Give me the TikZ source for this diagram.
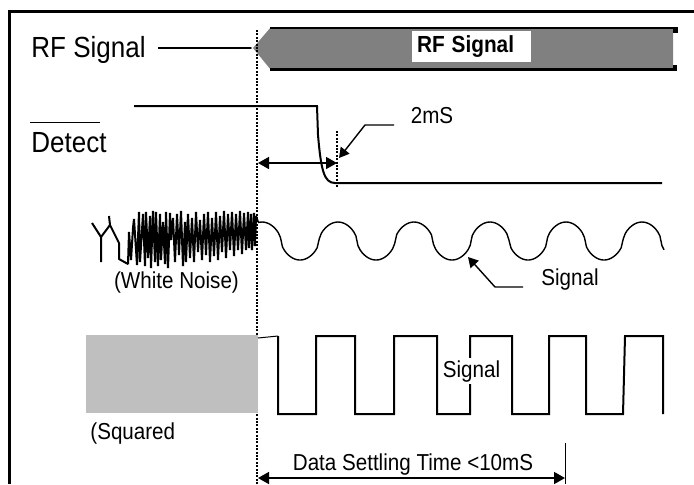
\documentclass[tikz,border=0pt]{standalone}
\usepackage{fontspec}
\setmainfont{Liberation Sans}
\usetikzlibrary{arrows.meta}
\definecolor{rfgray}{HTML}{808080}
\definecolor{boxgray}{HTML}{BFBFBF}
\newcommand{\tallt}[1]{\scalebox{1}[1.12]{#1}}

\begin{document}
\begin{tikzpicture}[x=0.5pt,y=-0.5pt,
    biglbl/.style={font=\fontsize{13}{15}\selectfont,inner sep=0pt,anchor=base},
    lbl/.style={font=\fontsize{10.3}{12}\selectfont,inner sep=0pt,anchor=base},
    sig/.style={line width=1pt},
    frame/.style={line width=1.5pt},
    dotln/.style={line width=1pt,dash pattern=on 1pt off 0.7pt},
    dimarr/.style={{Triangle[length=5.5pt,width=6pt]}-{Triangle[length=5.5pt,width=6pt]},line width=0.8pt},
    lead/.style={-{Triangle[length=5pt,width=5.5pt]},line width=0.7pt},
]
\useasboundingbox (0,0) rectangle (694,484);
\draw[frame] (9,484) -- (9,11) -- (694,11);

% RF signal
\node[biglbl] (rflbl) at (88.5,57) {\tallt{RF Signal}};
\coordinate (rfstart) at (158,48);
\coordinate (rftip) at (252,48);
\draw[sig] (rfstart) -- (rftip);
\fill[rfgray] (rftip) -- (270,27) -- (673,27) -- (673,70) -- (270,70) -- cycle;
\draw[white,line width=0.6pt] (270,27) -- (rftip) -- (270,70);
\draw[line width=1pt] (270,28) -- (678,28);
\draw[line width=1.5pt] (270,69.5) -- (677,69.5);
\fill (673,27) rectangle (678,33);
\fill (673,65) rectangle (677,71);
\node[fill=white,font=\fontsize{10.4}{12}\selectfont\bfseries,minimum width=59.5pt,minimum height=15.5pt,
    text width=54.5pt,align=left,inner xsep=2.5pt,inner ysep=0pt] (rfbar) at (471.5,46.5) {\tallt{RF Signal}};

% time marks
\draw[dotln] (257,30) -- (257,484);
\draw[dotln] (337,131) -- (337,188);

% detect
\node[biglbl] (detlbl) at (69,152) {\tallt{Detect}};
\draw[line width=0.5pt] (30,122) -- (100,122);
\draw[sig] (134,106) -- (317,106) -- (318,135) .. controls (321,170) and (324,183) .. (335,183) -- (662,183);
\coordinate (d1) at (258,163);
\coordinate (d2) at (337,163);
\draw[dimarr] (d1) -- (d2);
\node[lbl] (tms) at (432,123) {\tallt{2mS}};
\coordinate (m2) at (394,125);
\coordinate (m1) at (365,125);
\coordinate (m0) at (339,158);
\draw[lead] (m2) -- (m1) -- (m0);

% white noise and signal
\draw[line width=1pt,line join=bevel] (101,262) -- (101,237) -- (92,223);
\draw[line width=1pt,line join=bevel] (109,216) -- (110,225);
\draw[line width=1pt,line join=bevel] (101,237) -- (110,225) -- (119,243) -- (119,259) -- (128,264)
  -- (129,232) -- (131,260) -- (133,228) -- (134,219) -- (137,265) -- (139,212) -- (140,262) -- (142,230)
  -- (143,214) -- (145,266) -- (146,212) -- (148,258) -- (150,216) -- (151,268) -- (153,211) -- (155,262)
  -- (156,212) -- (158,266) -- (160,214) -- (161,260) -- (163,222) -- (165,264) -- (166,212) -- (168,268)
  -- (170,213) -- (171,240) -- (173,218) -- (175,262) -- (177,214) -- (179,255) -- (181,211) -- (183,266)
  -- (185,222) -- (186,262) -- (188,214) -- (190,258) -- (192,218) -- (194,262) -- (196,212) -- (198,252)
  -- (200,220) -- (202,260) -- (204,214) -- (206,255) -- (208,212) -- (210,262) -- (212,218) -- (214,256)
  -- (216,212) -- (218,260) -- (220,216) -- (222,252) -- (224,211) -- (226,258) -- (228,214) -- (230,250)
  -- (232,212) -- (234,256) -- (236,214) -- (238,250) -- (240,211) -- (242,254) -- (244,213) -- (246,250)
  -- (248,212) -- (249,248) -- (251,214) -- (252,250) -- (254,213) -- (255,246) -- (256,216) -- (258,222);
\node[lbl] (noise) at (176.5,288) {\tallt{(White Noise)}};
\draw[line width=0.7pt] plot[domain=258:664,samples=200]
  (\x,{241-19*sign(cos(4.736842*(\x-262)))*pow(abs(cos(4.736842*(\x-262))),0.55)});
\node[lbl] (sinlbl) at (570,285) {\tallt{Signal}};
\coordinate (s2) at (523,287);
\coordinate (s1) at (495,287);
\coordinate (s0) at (468,257);
\draw[lead] (s2) -- (s1) -- (s0);

% squared signal
\fill[boxgray] (86,335) rectangle (258,413);
\node[lbl,anchor=base west] (sqlbl) at (90,439) {\tallt{(Squared}};
\draw[line width=0.5pt] (258,338) -- (278,336);
\draw[sig] (278,336) -- (278,414) -- (316,414) -- (316,336) -- (355,336) -- (355,414) -- (394,414)
  -- (394,336) -- (437,336) -- (437,414) -- (470,414) -- (470,336) -- (512,336) -- (512,414)
  -- (549,414) -- (549,336) -- (586,336) -- (586,414) -- (623,414) -- (625,336) -- (663,336) -- (663,414);
\node[lbl,fill=white,inner sep=1pt] (sqsig) at (471.5,377) {\tallt{Signal}};

% settling time
\coordinate (t1) at (258,478);
\coordinate (t2) at (565,478);
\draw[dimarr] (t1) -- (t2);
\draw[line width=0.5pt] (565,443) -- (565,484);
\node[lbl] (settle) at (413,470) {\tallt{Data Settling Time <10mS}};
\end{tikzpicture}
\end{document}
